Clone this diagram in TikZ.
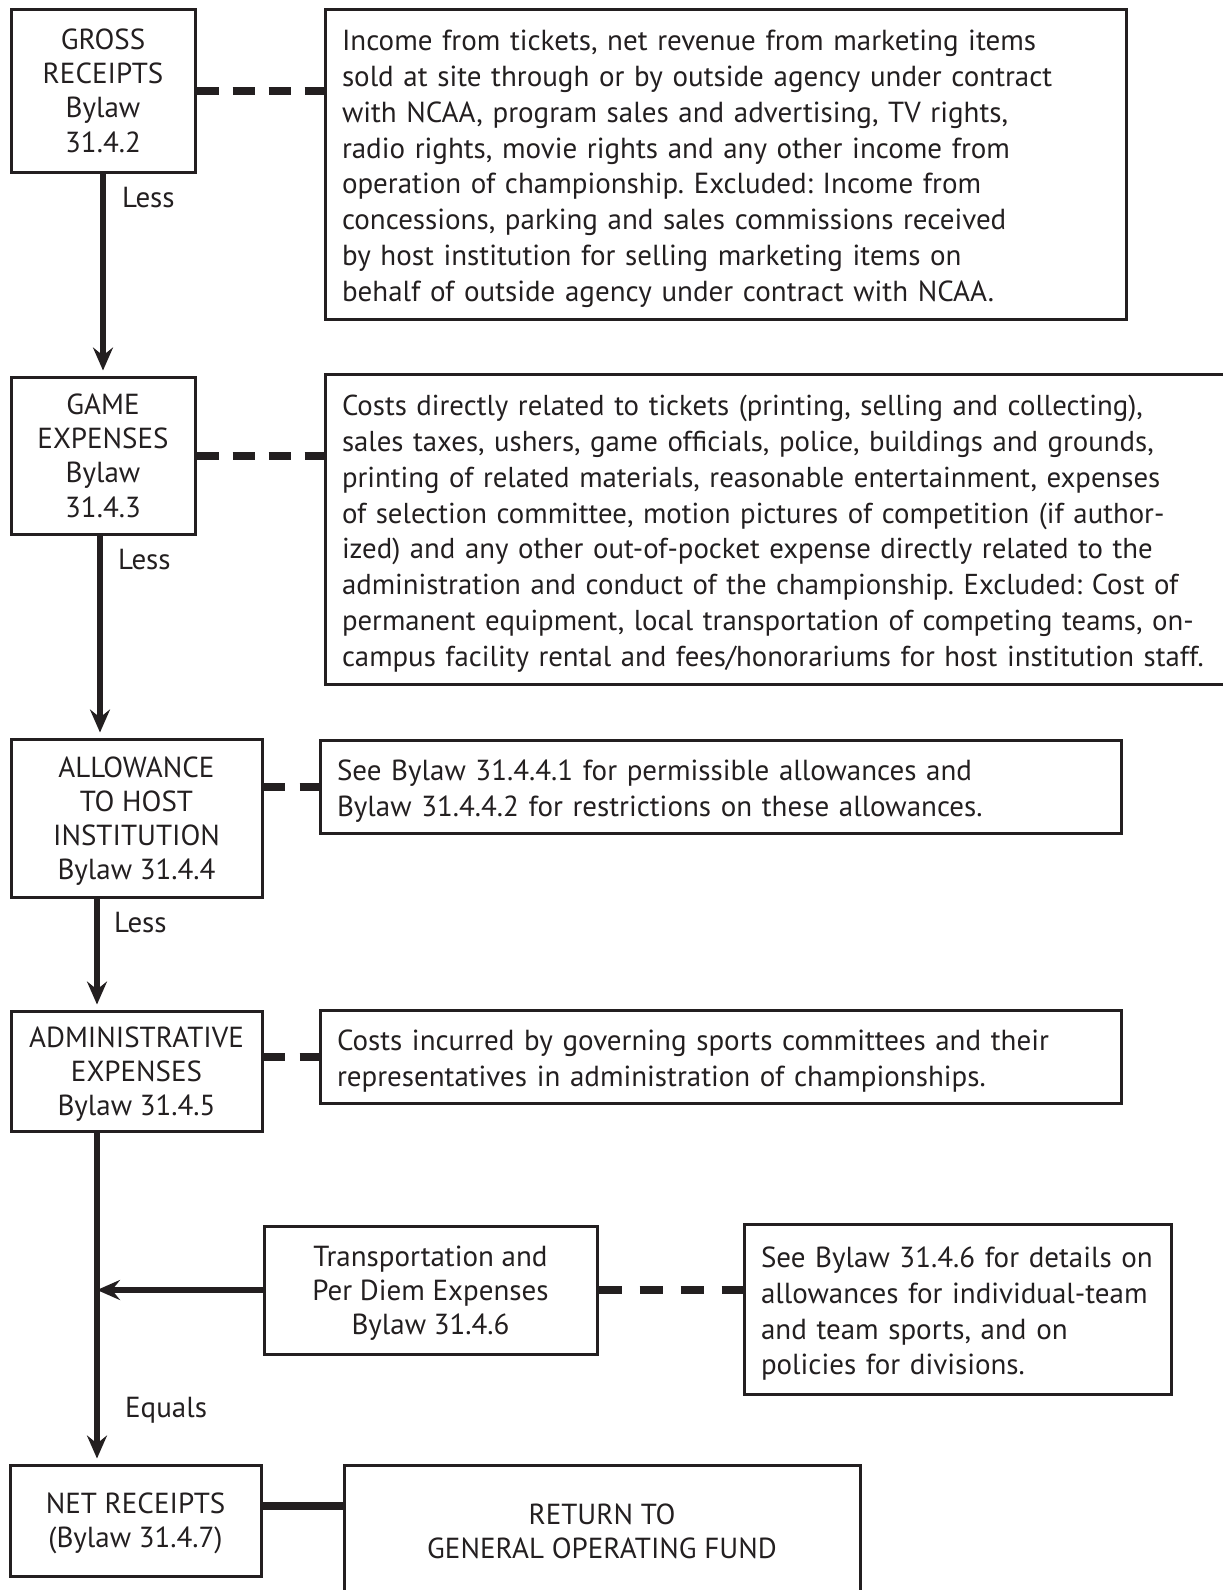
\documentclass[tikz,border=0pt]{standalone}
\usepackage{fontspec}
\setmainfont{PT Sans}
\usetikzlibrary{arrows.meta}
\definecolor{ink}{HTML}{231F20}

\begin{document}
\begin{tikzpicture}[x=1pt, y=-1pt,
  every node/.style={font=\fontsize{29}{34.2}\selectfont\frenchspacing, text=ink},
  box/.style={draw=ink, line width=3pt, align=center, inner sep=0pt, text depth=0pt},
  info/.style={draw=ink, line width=3pt, align=left, inner xsep=17pt, inner ysep=0pt, text height=30pt,
    font=\fontsize{29}{35.8}\selectfont\frenchspacing},
  flow/.style={draw=ink, line width=6pt, shorten >=5pt, -{Stealth[length=23pt, width=20pt, inset=8pt]}},
  link/.style={draw=ink, line width=8pt, dash pattern=on 22pt off 14pt},
  solidlink/.style={draw=ink, line width=8pt},
  lbl/.style={anchor=west, inner sep=0pt}]
  \useasboundingbox (0,0) rectangle (1223,1590);
  \clip (0,0) rectangle (1223,1590);
  \coordinate (spine) at (97,0);
  % left column
  \node[box, minimum width=184, minimum height=163] (gross) at (103, 90.5) {GROSS\\RECEIPTS\\Bylaw\\31.4.2};
  \node[box, minimum width=184, minimum height=157] (game) at (103, 455.5) {GAME\\EXPENSES\\Bylaw\\31.4.3};
  \node[box, minimum width=251, minimum height=158] (allow) at (136.5, 818) {ALLOWANCE\\TO HOST\\INSTITUTION\\Bylaw 31.4.4};
  \node[box, minimum width=251, minimum height=120] (admin) at (136.5, 1071) {ADMINISTRATIVE\\EXPENSES\\Bylaw 31.4.5};
  \node[box, minimum width=333, minimum height=128] (trans) at (430.5, 1290) {Transportation and\\Per Diem Expenses\\Bylaw 31.4.6};
  \node[box, minimum width=251, minimum height=111] (net) at (135.5, 1520.5) {NET RECEIPTS\\(Bylaw 31.4.7)};
  \node[box, minimum width=516, minimum height=132] (ret) at (602, 1531) {RETURN TO\\GENERAL OPERATING FUND};
  % notes
  \node[info, minimum height=310, text width=767] (incm) at (725.5, 164) {Income from tickets, net revenue from marketing items\\
    sold at site through or by outside agency under contract\\
    with NCAA, program sales and advertising, TV rights,\\
    radio rights, movie rights and any other income from\\
    operation of championship. Excluded: Income from\\
    concessions, parking and sales commissions received\\
    by host institution for selling marketing items on\\
    behalf of outside agency under contract with NCAA.};
  \node[info, minimum height=310, text width=896, font=\fontsize{28.8}{35.8}\selectfont\frenchspacing] (cost) at (790, 529) {Costs directly related to tickets (printing, selling and collecting),\\
    sales taxes, ushers, game officials, police, buildings and grounds,\\
    printing of related materials, reasonable entertainment, expenses\\
    of selection committee, motion pictures of competition (if author-\\
    ized) and any other out-of-pocket expense directly related to the\\
    administration and conduct of the championship. Excluded: Cost of\\
    permanent equipment, local transportation of competing teams, on-\\
    campus facility rental and fees/honorariums for host institution staff.};
  \node[info, minimum height=93, text width=767] (host) at (720.5, 786.5) {See Bylaw 31.4.4.1 for permissible allowances and\\
    Bylaw 31.4.4.2 for restrictions on these allowances.};
  \node[info, minimum height=93, text width=767] (admfee) at (720.5, 1056.5) {Costs incurred by governing sports committees and their\\
    representatives in administration of championships.};
  \node[info, minimum height=170, text width=393] (travel) at (957.5, 1309) {See Bylaw 31.4.6 for details on\\
    allowances for individual-team\\
    and team sports, and on\\
    policies for divisions.};
  % labels
  \node[lbl] (less1) at (122, 198) {Less};
  \node[lbl] (less2) at (118, 560) {Less};
  \node[lbl] (less3) at (114, 923) {Less};
  \node[lbl] (equals) at (125, 1410) {Equals};
  % connectors
  \draw[flow] (gross.south) -- (game.north);
  \draw[flow] ([xshift=-3pt]game.south) -- ([xshift=-3pt]game.south |- allow.north);
  \draw[flow] (allow.south -| spine) -- (admin.north -| spine);
  \draw[flow] (admin.south -| spine) -- (net.north -| spine);
  \draw[flow, shorten >=0pt] (trans.west) -- (trans.west -| spine);
  \draw[link] (gross.east) -- (gross.east -| incm.west);
  \draw[link] (game.east) -- (game.east -| cost.west);
  \draw[link, dash pattern=on 21pt off 15pt] (allow.east |- host.west) -- (host.west);
  \draw[link, dash pattern=on 21pt off 15pt] (admin.east |- admfee.west) -- (admfee.west);
  \draw[link, dash pattern=on 23pt off 18pt] (trans.east) -- (trans.east -| travel.west);
  \draw[solidlink] ([yshift=14.5pt]net.east) -- ([yshift=14.5pt]net.east -| ret.west);
\end{tikzpicture}
\end{document}
